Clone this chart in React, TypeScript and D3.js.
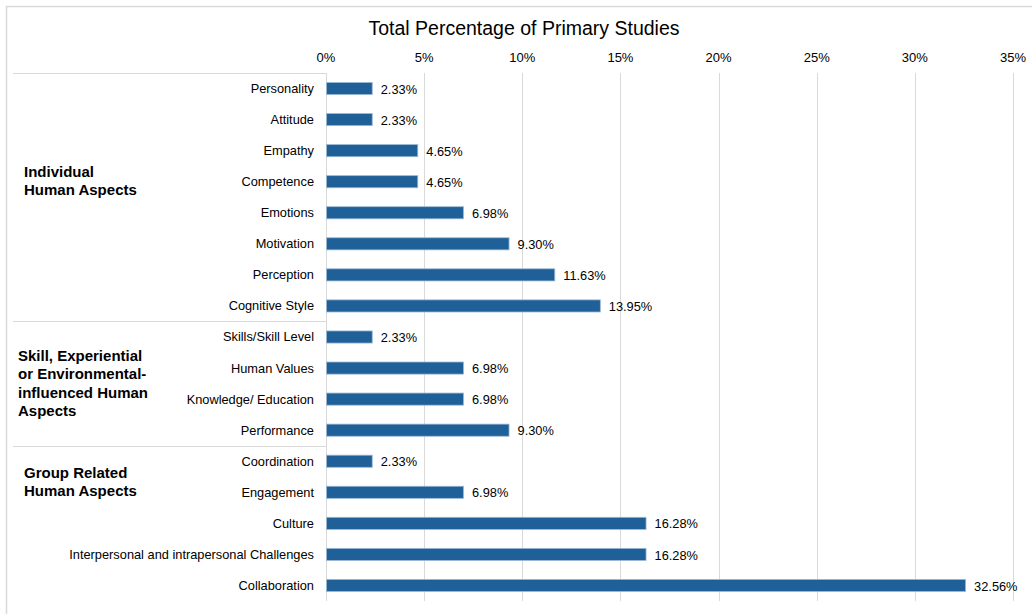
import React, { useEffect, useRef } from "react";
import * as d3 from "d3";

const categories = [
  "Personality",
  "Attitude",
  "Empathy",
  "Competence",
  "Emotions",
  "Motivation",
  "Perception",
  "Cognitive Style",
  "Skills/Skill Level",
  "Human Values",
  "Knowledge/ Education",
  "Performance",
  "Coordination",
  "Engagement",
  "Culture",
  "Interpersonal and intrapersonal Challenges",
  "Collaboration",
];

const percentages = [
  2.33, 2.33, 4.65, 4.65, 6.98, 9.3, 11.63, 13.95, 2.33, 6.98, 6.98, 9.3, 2.33,
  6.98, 16.28, 16.28, 32.56,
];

const groupNames = [
  ["Individual", "Human Aspects"],
  ["Skill, Experiential", "or Environmental-", "influenced Human", "Aspects"],
  ["Group Related", "Human Aspects"],
];
// last category index of each group
const groupEnd = [7, 11, 16];

const xTicks = [0, 5, 10, 15, 20, 25, 30, 35];

const title = "Total Percentage of Primary Studies";

const App: React.FC = () => {
  const ref = useRef<SVGSVGElement | null>(null);
  const width = 1032;
  const height = 614;

  useEffect(() => {
    const margin = { top: 73, right: 19, bottom: 13, left: 326 };
    const w = width - margin.left - margin.right;
    const plotBottom = height - margin.bottom;

    d3.select(ref.current).selectAll("*").remove();

    const svg = d3
      .select(ref.current)
      .attr("width", width)
      .attr("height", height)
      .style("font-family", "'Liberation Sans', Arial, sans-serif");

    // Outer frame
    svg
      .append("rect")
      .attr("x", 6.5)
      .attr("y", 6.5)
      .attr("width", 1040)
      .attr("height", 640)
      .attr("fill", "#fff")
      .attr("stroke", "#d9d9d9")
      .attr("stroke-width", 1.5);

    const x = d3
      .scaleLinear()
      .domain([0, 35])
      .range([margin.left, margin.left + w]);

    const y = d3
      .scaleBand()
      .domain(categories)
      .range([margin.top, plotBottom])
      .paddingInner(0.61)
      .paddingOuter(0.305);

    // Gridlines
    svg
      .append("g")
      .selectAll("line")
      .data(xTicks)
      .enter()
      .append("line")
      .attr("x1", (d) => Math.round(x(d)) + 0.5)
      .attr("x2", (d) => Math.round(x(d)) + 0.5)
      .attr("y1", margin.top)
      .attr("y2", plotBottom)
      .attr("stroke", "#d9d9d9")
      .attr("stroke-width", 1);

    // Tick labels (top)
    svg
      .append("g")
      .selectAll("text")
      .data(xTicks)
      .enter()
      .append("text")
      .attr("x", (d) => x(d))
      .attr("y", 62)
      .attr("text-anchor", "middle")
      .style("font-size", "13px")
      .attr("fill", "#000")
      .text((d) => `${d}%`);

    // Title
    svg
      .append("text")
      .attr("x", 524)
      .attr("y", 35)
      .attr("text-anchor", "middle")
      .style("font-size", "19.5px")
      .attr("fill", "#000")
      .text(title);

    // Group separators on the left
    const step = y.step();
    const boundaries = [0, ...groupEnd.map((e) => e + 1)].slice(0, 3);
    svg
      .append("g")
      .selectAll("line")
      .data(boundaries)
      .enter()
      .append("line")
      .attr("x1", 13)
      .attr("x2", margin.left)
      .attr("y1", (d) => Math.round(margin.top + d * step) + 0.5)
      .attr("y2", (d) => Math.round(margin.top + d * step) + 0.5)
      .attr("stroke", "#d9d9d9")
      .attr("stroke-width", 1.2);

    // Group labels (placed a bit above the middle of each group, like the original)
    const groupLabelX = [24, 18, 24];
    const groupLabelTop = [177, 361, 478];
    groupNames.forEach((lines, i) => {
      const lineH = 18.3;
      const t = svg
        .append("text")
        .attr("x", groupLabelX[i])
        .style("font-size", "15px")
        .style("font-weight", "bold")
        .attr("fill", "#000");
      lines.forEach((line, j) => {
        t.append("tspan")
          .attr("x", groupLabelX[i])
          .attr("y", groupLabelTop[i] + j * lineH)
          .text(line);
      });
    });

    // Category labels
    svg
      .append("g")
      .selectAll("text")
      .data(categories)
      .enter()
      .append("text")
      .attr("x", margin.left - 12)
      .attr("y", (d) => (y(d) ?? 0) + y.bandwidth() / 2)
      .attr("dy", "0.35em")
      .attr("text-anchor", "end")
      .style("font-size", "12.8px")
      .attr("fill", "#000")
      .text((d) => d);

    // Bars
    svg
      .append("g")
      .selectAll("rect")
      .data(categories)
      .enter()
      .append("rect")
      .attr("x", x(0) + 0.5)
      .attr("y", (d) => y(d) ?? 0)
      .attr("width", (d, i) => x(percentages[i]) - x(0))
      .attr("height", y.bandwidth())
      .attr("fill", "#1f6099")
      .attr("stroke", "#9db9d6")
      .attr("stroke-width", 0.8);

    // Value labels
    svg
      .append("g")
      .selectAll("text")
      .data(categories)
      .enter()
      .append("text")
      .attr("x", (d, i) => x(percentages[i]) + 9)
      .attr("y", (d) => (y(d) ?? 0) + y.bandwidth() / 2)
      .attr("dy", "0.4em")
      .style("font-size", "12.8px")
      .attr("fill", "#000")
      .text((d, i) => `${percentages[i].toFixed(2)}%`);
  }, []);

  return (
    <svg
      ref={ref}
      style={{ position: "absolute", left: 0, top: 0, display: "block" }}
    ></svg>
  );
};

export default App;
